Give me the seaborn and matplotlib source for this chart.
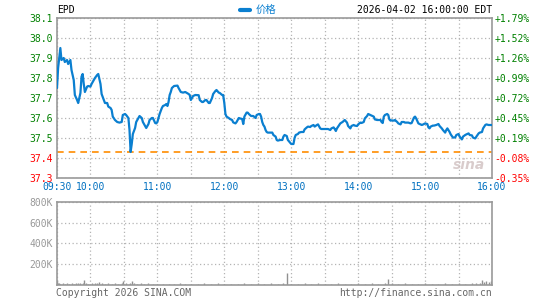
import matplotlib
matplotlib.use("Agg")
import matplotlib.pyplot as plt
import numpy as np
import pandas as pd
import seaborn as sns

# ---- data (minutes after 09:30, price) ----
minutes = [0, 1, 3, 4, 6, 7, 9, 10, 12, 13, 15, 16, 18, 19, 21, 22, 23, 24, 25, 27,
           28, 30, 31, 33, 34, 36, 37, 39, 40, 42, 43, 45, 46, 48, 49, 50, 52, 54, 56, 58,
           59, 61, 62, 64, 65, 66, 67, 68, 70, 71, 73, 74, 76, 77, 79, 80, 82, 83, 85, 86,
           88, 89, 90, 91, 92, 94, 95, 97, 98, 99, 100, 101, 102, 103, 105, 108, 109, 111, 113, 115,
           118, 119, 120, 122, 124, 127, 128, 130, 131, 133, 134, 136, 137, 139, 140, 142, 143, 145, 146, 148,
           149, 150, 151, 152, 154, 155, 157, 158, 160, 161, 163, 164, 166, 167, 168, 170, 171, 172, 174, 176,
           178, 179, 181, 182, 183, 184, 185, 186, 187, 188, 189, 193, 194, 196, 197, 198, 200, 202, 203, 204,
           206, 207, 209, 210, 212, 213, 214, 216, 217, 219, 221, 222, 224, 225, 227, 228, 230, 231, 233, 234,
           236, 237, 240, 243, 245, 246, 248, 249, 250, 251, 253, 254, 256, 258, 260, 261, 263, 264, 266, 267,
           269, 270, 272, 273, 275, 276, 278, 279, 281, 282, 284, 285, 287, 290, 291, 292, 293, 294, 296, 297,
           298, 299, 300, 302, 303, 305, 306, 308, 309, 311, 312, 315, 317, 318, 320, 321, 322, 323, 324, 326,
           327, 328, 330, 332, 333, 334, 335, 337, 338, 340, 342, 343, 345, 346, 348, 349, 350, 352, 353, 355,
           357, 358, 360, 361, 363, 364, 366, 367, 369, 370, 372, 373, 375, 376, 378, 379, 381, 382, 384, 385,
           387, 390]
prices = [37.75, 37.85, 37.95, 37.89, 37.90, 37.88, 37.89, 37.87, 37.89, 37.84, 37.79, 37.715, 37.69, 37.675, 37.725, 37.807, 37.82, 37.77, 37.73, 37.757,
          37.76, 37.757, 37.77, 37.79, 37.80, 37.815, 37.82, 37.77, 37.72, 37.69, 37.675, 37.675, 37.657, 37.65, 37.64, 37.607, 37.59, 37.58, 37.577, 37.58,
          37.615, 37.62, 37.615, 37.60, 37.54, 37.43, 37.47, 37.52, 37.55, 37.58, 37.60, 37.61, 37.60, 37.58, 37.56, 37.55, 37.57, 37.59, 37.60, 37.60,
          37.575, 37.573, 37.58, 37.60, 37.62, 37.65, 37.66, 37.665, 37.67, 37.66, 37.68, 37.715, 37.73, 37.75, 37.76, 37.762, 37.75, 37.73, 37.727, 37.73,
          37.72, 37.715, 37.69, 37.71, 37.715, 37.714, 37.69, 37.68, 37.68, 37.69, 37.69, 37.675, 37.675, 37.70, 37.72, 37.735, 37.74, 37.727, 37.725, 37.715,
          37.715, 37.675, 37.62, 37.607, 37.60, 37.595, 37.59, 37.578, 37.573, 37.58, 37.60, 37.598, 37.595, 37.57, 37.607, 37.627, 37.627, 37.62, 37.61, 37.61,
          37.60, 37.615, 37.62, 37.62, 37.607, 37.58, 37.565, 37.557, 37.54, 37.53, 37.527, 37.527, 37.515, 37.507, 37.49, 37.487, 37.49, 37.49, 37.507, 37.515,
          37.51, 37.49, 37.477, 37.47, 37.47, 37.50, 37.515, 37.52, 37.527, 37.53, 37.53, 37.543, 37.553, 37.557, 37.555, 37.56, 37.565, 37.557, 37.565, 37.568,
          37.548, 37.545, 37.545, 37.545, 37.54, 37.548, 37.553, 37.545, 37.535, 37.548, 37.565, 37.573, 37.58, 37.59, 37.577, 37.56, 37.548, 37.56, 37.565, 37.562,
          37.56, 37.568, 37.577, 37.575, 37.58, 37.598, 37.61, 37.62, 37.615, 37.612, 37.607, 37.593, 37.59, 37.59, 37.58, 37.575, 37.607, 37.615, 37.62, 37.615,
          37.593, 37.587, 37.588, 37.587, 37.59, 37.58, 37.573, 37.568, 37.58, 37.58, 37.577, 37.577, 37.573, 37.575, 37.602, 37.607, 37.598, 37.585, 37.573, 37.568,
          37.565, 37.567, 37.573, 37.57, 37.553, 37.548, 37.557, 37.562, 37.562, 37.565, 37.57, 37.56, 37.548, 37.54, 37.527, 37.54, 37.548, 37.53, 37.518, 37.502,
          37.503, 37.515, 37.52, 37.507, 37.493, 37.507, 37.515, 37.518, 37.523, 37.515, 37.513, 37.502, 37.498, 37.507, 37.523, 37.527, 37.53, 37.548, 37.565, 37.568,
          37.565, 37.565]

prev_close = 37.43

vol_minutes = [0, 1, 2, 3, 5, 7, 9, 11, 13, 15, 17, 19, 21, 23, 24, 26, 28, 31, 34, 36,
               38, 40, 43, 46, 49, 52, 55, 58, 59, 62, 65, 67, 69, 72, 75, 78, 82, 86, 90, 95,
               100, 105, 110, 115, 120, 126, 132, 138, 144, 150, 156, 162, 168, 174, 180, 186, 192, 198, 203, 206,
               210, 216, 222, 228, 234, 240, 246, 252, 258, 264, 270, 276, 282, 288, 294, 297, 300, 306, 312, 318,
               324, 330, 336, 342, 348, 354, 360, 366, 372, 376, 379, 381, 383, 385, 387, 389]
volumes_k = [45, 22, 16, 14, 18, 14, 16, 14, 19, 14, 17, 15, 21, 24, 48, 16, 14, 18, 15, 20,
             28, 16, 14, 17, 14, 16, 14, 24, 35, 16, 22, 40, 18, 14, 16, 13, 15, 13, 14, 12,
             14, 13, 15, 12, 14, 13, 15, 12, 16, 13, 14, 12, 15, 13, 18, 14, 15, 14, 20, 118,
             14, 13, 15, 12, 16, 13, 14, 15, 12, 14, 15, 13, 16, 14, 24, 57, 15, 13, 15, 14,
             13, 15, 12, 14, 16, 13, 15, 14, 18, 24, 22, 48, 28, 40, 26, 35]

x_ticks = list(range(0, 391, 30))
x_labels = ["09:30", "10:00", "", "11:00", "", "12:00", "", "13:00", "", "14:00", "", "15:00", "", "16:00"]
price_ticks = [37.3, 37.4, 37.5, 37.6, 37.7, 37.8, 37.9, 38.0, 38.1]
vol_ticks = [0, 200, 400, 600, 800]

sns.set_style("white")
plt.rcParams['font.family'] = ['DejaVu Sans Mono', 'Noto Sans CJK SC']
plt.rcParams['font.size'] = 7

df = pd.DataFrame({"t": minutes, "price": prices})

fig = plt.figure(figsize=(5.45, 3.0), dpi=100)
ax = fig.add_axes([57 / 545, 1 - 178 / 300, 435 / 545, 160 / 300])
axv = fig.add_axes([57 / 545, 1 - 285 / 300, 435 / 545, 83.3 / 300])

LINE = '#0a7fd0'
GRID = '#b4b4b4'
SPINE = '#999999'
GREEN = '#008000'
RED = '#ff0000'

# price panel
sns.lineplot(data=df, x="t", y="price", ax=ax, color=LINE, linewidth=1.6, zorder=3)
ax.axhline(prev_close, color='#ff8c00', linestyle=(0, (4, 3)), linewidth=1.2, zorder=2)
ax.set_xlim(0, 390)
ax.set_ylim(37.3, 38.1)
ax.set_xticks(x_ticks)
ax.set_xticklabels(x_labels, color='#0070c0')
ax.set_yticks(price_ticks)
ax.set_yticklabels(["%.1f" % p for p in price_ticks])
for lbl, p in zip(ax.get_yticklabels(), price_ticks):
    lbl.set_color(GREEN if p > prev_close else RED)
ax.tick_params(length=0, pad=3)
ax.grid(True, color=GRID, linestyle=(0, (1, 2)), linewidth=0.9)
ax.set_xlabel("")
ax.set_ylabel("")
for s in ax.spines.values():
    s.set_color(SPINE)
    s.set_linewidth(1.2)

# right axis percentages
axr = ax.twinx()
axr.set_ylim(37.3, 38.1)
axr.set_yticks(price_ticks)
pct = [(p / prev_close - 1) * 100 for p in price_ticks]
axr.set_yticklabels(["%+.2f%%" % v for v in pct])
for lbl, v in zip(axr.get_yticklabels(), pct):
    lbl.set_color(GREEN if v > 0 else RED)
axr.tick_params(length=0, pad=2)
for s in axr.spines.values():
    s.set_visible(False)

# volume panel
axv.vlines(vol_minutes, 0, volumes_k, color='#909090', linewidth=1.0)
axv.set_xlim(0, 390)
axv.set_ylim(0, 800)
axv.set_xticks(x_ticks)
axv.set_xticklabels([])
axv.set_yticks(vol_ticks)
axv.set_yticklabels(["" if v == 0 else "%dK" % v for v in vol_ticks], color='#999999')
axv.tick_params(length=0, pad=3)
axv.grid(True, color=GRID, linestyle=(0, (1, 2)), linewidth=0.9)
for s in axv.spines.values():
    s.set_color(SPINE)
    s.set_linewidth(1.2)

# header / footer texts
fig.text(57 / 545, 1 - 10 / 300, "EPD", ha='left', va='center', fontsize=7, color='black')
fig.text(256 / 545, 1 - 10 / 300, "价格", ha='left', va='center', fontsize=7.5, color=LINE,
         family=['Noto Sans CJK SC', 'DejaVu Sans'])
fig.add_artist(plt.Line2D([240 / 545, 250 / 545], [1 - 10 / 300, 1 - 10 / 300], color=LINE, linewidth=3))
fig.text(492 / 545, 1 - 10 / 300, "2026-04-02 16:00:00 EDT", ha='right', va='center', fontsize=7, color='black')
fig.text(56 / 545, 1 - 293 / 300, "Copyright 2026 SINA.COM", ha='left', va='center', fontsize=7, color='#666666')
fig.text(492 / 545, 1 - 293 / 300, "http://finance.sina.com.cn", ha='right', va='center', fontsize=7, color='#666666')
ax.text(0.985, 0.04, "sina", transform=ax.transAxes, ha='right', va='bottom', fontsize=10,
        fontstyle='italic', fontweight='bold', color='#d0c0c0', alpha=0.8, family='DejaVu Sans', zorder=1)

fig.savefig("out.png", dpi=100)
